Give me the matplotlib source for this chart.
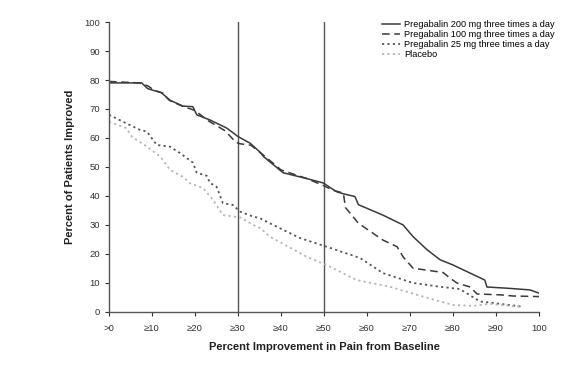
import matplotlib
matplotlib.use("Agg")
import matplotlib.pyplot as plt

plt.rcParams['font.family'] = ['Liberation Sans', 'DejaVu Sans']

x_ticks = [0, 10, 20, 30, 40, 50, 60, 70, 80, 90, 100]
x_ticklabels = [">0", "≥10", "≥20", "≥30", "≥40", "≥50", "≥60", "≥70", "≥80", "≥90", "100"]
y_ticks = [0, 10, 20, 30, 40, 50, 60, 70, 80, 90, 100]
ref_lines = [30, 50]

series_names = ["Pregabalin 200 mg three times a day",
                "Pregabalin 100 mg three times a day",
                "Pregabalin 25 mg three times a day",
                "Placebo"]

x_200 = [0, 7.6, 9, 12.2, 14.2, 17.2, 19.5, 20.4, 23.5, 27.4, 30, 32.8, 35, 36, 40.5, 46, 49.8,
         52.9, 54.4, 57.2, 58, 63.7, 68.4, 70.7, 74, 77, 80, 87.4, 87.9, 92.5, 97.9, 100]
y_200 = [79, 79, 77, 75.6, 73, 71, 70.8, 68, 66.2, 63.4, 60.5, 58.2, 55.3, 53.5, 48, 46, 44.5,
         41.5, 40.8, 39.8, 37, 33.4, 30, 26, 21.4, 18, 16.2, 11, 8.6, 8.2, 7.6, 6.5]

x_100 = [0, 7, 9, 10.5, 12.5, 14, 17, 20, 23, 27, 29.5, 30.5, 33, 36, 40, 46, 50, 52, 54.5, 55,
         58, 63.7, 67, 68.4, 70.7, 77.7, 79.3, 80.9, 84, 85.6, 91, 94, 100]
y_100 = [79.5, 79, 78, 76.5, 75.5, 73, 71, 69.5, 66, 62.5, 58.5, 58, 57.5, 54, 49, 46, 43.5, 42,
         41, 36, 30.6, 24.8, 22.5, 19, 15.1, 13.6, 11.7, 10, 8.6, 6.2, 5.9, 5.5, 5.3]

x_25 = [0, 4.1, 7.2, 8.8, 11.1, 14.2, 16.5, 19.5, 20.4, 22.7, 23.5, 25, 26.5, 28.8, 30.5, 33.5,
        35, 38.2, 44.4, 50.6, 58.4, 63.7, 70.7, 77, 81.6, 86.3, 89.3, 96.3]
y_25 = [68, 65, 62.8, 62.2, 57.6, 57, 54.8, 51.5, 48, 47, 44.5, 43.2, 37.5, 36.9, 34.6, 32.9,
        32.4, 30, 25.5, 22.5, 18.6, 13.4, 10, 8.7, 7.9, 3.6, 3.1, 1.8]

x_pl = [0, 4, 5.3, 8.8, 11.9, 14.2, 17.3, 18.8, 21.9, 24.2, 26.5, 30.5, 34.3, 35.1, 37.4, 46,
        50.6, 57.6, 65.3, 73, 80, 84.7, 88.6, 95.6]
y_pl = [65.6, 63.4, 60.5, 57, 53.6, 49, 46.5, 44.4, 42.7, 38.6, 33.4, 32.6, 29.4, 29, 26, 19,
        16.2, 11, 8.7, 5.3, 2.4, 2.1, 2.8, 1.8]

fig = plt.figure(figsize=(5.83, 3.67), dpi=100)
ax = fig.add_axes([0.187, 0.150, 0.7375, 0.790])

for xv in ref_lines:
    ax.plot([xv, xv], [0, 100], color='#555555', lw=1.0, zorder=1)

ax.plot(x_200, y_200, color='#3a3a3a', lw=1.1, ls='-', label=series_names[0])
ax.plot(x_100, y_100, color='#3a3a3a', lw=1.1, ls=(0, (5, 3)), label=series_names[1])
ax.plot(x_25, y_25, color='#555555', lw=1.3, ls=(0, (1.2, 1.8)), label=series_names[2])
ax.plot(x_pl, y_pl, color='#b5b5b5', lw=1.3, ls=(0, (1.2, 1.8)), label=series_names[3])

ax.set_xlim(0, 100)
ax.set_ylim(0, 100)
ax.set_xticks(x_ticks)
ax.set_xticklabels(x_ticklabels)
ax.set_yticks(y_ticks)
for s in ['top', 'right']:
    ax.spines[s].set_visible(False)
for s in ['left', 'bottom']:
    ax.spines[s].set_color('#555555')
    ax.spines[s].set_linewidth(1.0)
ax.tick_params(axis='both', labelsize=6.8, colors='#333333', length=3, width=0.8,
               direction='out')
ax.tick_params(axis='x', pad=6)
ax.set_xlabel("Percent Improvement in Pain from Baseline", fontsize=8, fontweight='bold',
              color='#222222', labelpad=6)
ax.set_ylabel("Percent of Patients Improved", fontsize=8, fontweight='bold',
              color='#222222', labelpad=7)

leg = ax.legend(loc='upper left', bbox_to_anchor=(0.655, 0.945), bbox_transform=fig.transFigure,
                fontsize=6.6, frameon=False, handlelength=2.0, handletextpad=0.4,
                labelspacing=0.12, borderaxespad=0, borderpad=0)

fig.savefig("out.png", dpi=100)
